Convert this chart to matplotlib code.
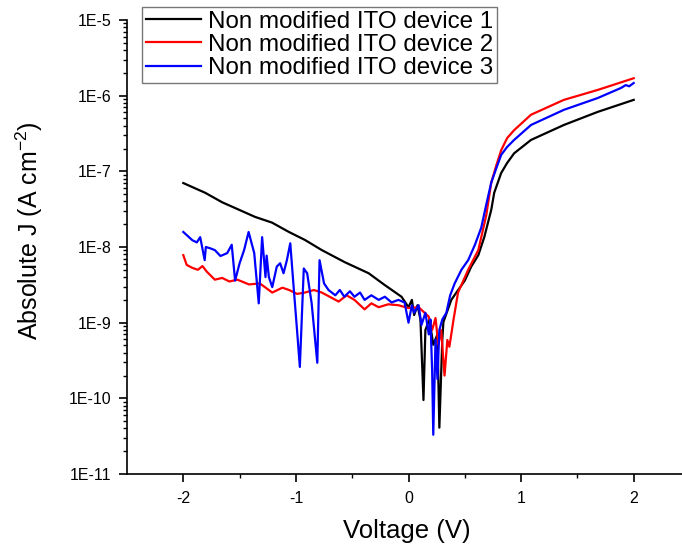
import matplotlib.pyplot as plt
from matplotlib.ticker import FixedLocator, LogLocator, NullFormatter

plt.rcParams['font.family'] = ['Liberation Sans', 'DejaVu Sans']
plt.rcParams['mathtext.default'] = 'regular'

# Device 1 (black)
v1 = [-2.0, -1.805, -1.655, -1.504, -1.363, -1.212, -1.062, -0.92, -0.77, -0.566,
      -0.354, -0.212, -0.062, 0.0, 0.03, 0.05, 0.08, 0.106, 0.133, 0.15, 0.186,
      0.22, 0.257, 0.274, 0.30, 0.31, 0.38, 0.425, 0.50, 0.557, 0.62, 0.673,
      0.735, 0.761, 0.823, 0.876, 0.938, 1.088, 1.38, 1.68, 2.0]
j1 = [7.0e-8, 5.2e-8, 3.9e-8, 3.1e-8, 2.5e-8, 2.1e-8, 1.58e-8, 1.24e-8, 9.1e-9, 6.3e-9,
      4.5e-9, 3.15e-9, 2.2e-9, 1.6e-9, 2.0e-9, 1.26e-9, 1.7e-9, 1.1e-9, 9.5e-11, 8e-10, 1.1e-9,
      5.1e-10, 7e-10, 4.1e-11, 5.9e-10, 1.02e-9, 2.0e-9, 2.5e-9, 3.6e-9, 5.5e-9, 7.8e-9, 1.35e-8,
      3.1e-8, 5.2e-8, 9.5e-8, 1.29e-7, 1.73e-7, 2.6e-7, 4.1e-7, 6.1e-7, 8.8e-7]

# Device 2 (red)
v2 = [-2.0, -1.97, -1.92, -1.87, -1.83, -1.79, -1.72, -1.655, -1.59, -1.52, -1.416,
      -1.32, -1.21, -1.12, -1.06, -0.99, -0.92, -0.84, -0.77, -0.70, -0.62, -0.55,
      -0.48, -0.39, -0.33, -0.265, -0.18, -0.09, 0.0, 0.09, 0.18, 0.21, 0.24, 0.265,
      0.29, 0.32, 0.345, 0.363, 0.40, 0.44, 0.53, 0.62, 0.69, 0.735, 0.78, 0.823,
      0.876, 0.938, 1.088, 1.38, 1.68, 2.0]
j2 = [7.8e-9, 5.8e-9, 5.3e-9, 5.0e-9, 5.6e-9, 4.7e-9, 3.7e-9, 3.9e-9, 3.5e-9, 3.7e-9, 3.2e-9,
      3.3e-9, 2.5e-9, 2.9e-9, 2.7e-9, 2.4e-9, 2.5e-9, 2.7e-9, 2.5e-9, 2.2e-9, 1.9e-9, 2.3e-9,
      2.0e-9, 1.5e-9, 1.8e-9, 1.6e-9, 1.75e-9, 1.7e-9, 1.56e-9, 1.6e-9, 1.2e-9, 8e-10, 1.15e-9, 5.1e-10,
      8e-10, 2.0e-10, 5.9e-10, 4.8e-10, 1.1e-9, 2.5e-9, 5e-9, 9.1e-9, 2.6e-8, 7.1e-8, 1.2e-7, 1.9e-7,
      2.75e-7, 3.5e-7, 5.6e-7, 8.8e-7, 1.19e-6, 1.7e-6]

# Device 3 (blue)
v3 = [-2.0, -1.92, -1.88, -1.85, -1.81, -1.80, -1.76, -1.72, -1.67, -1.61, -1.57,
      -1.54, -1.50, -1.46, -1.42, -1.37, -1.33, -1.30, -1.27, -1.26, -1.24, -1.21,
      -1.17, -1.14, -1.11, -1.08, -1.05, -1.02, -0.99, -0.965, -0.93, -0.90, -0.86,
      -0.81, -0.79, -0.75, -0.71, -0.65, -0.61, -0.57, -0.52, -0.48, -0.43, -0.39,
      -0.33, -0.265, -0.21, -0.15, -0.09, -0.035, 0.0, 0.03, 0.05, 0.09, 0.115, 0.15,
      0.18, 0.195, 0.21, 0.22, 0.24, 0.257, 0.274, 0.30, 0.336, 0.37, 0.41, 0.47,
      0.53, 0.59, 0.646, 0.69, 0.735, 0.78, 0.823, 0.876, 0.938, 1.088, 1.38, 1.68,
      1.885, 1.93, 1.96, 2.0]
j3 = [1.58e-8, 1.23e-8, 1.15e-8, 1.35e-8, 6.7e-9, 1.0e-8, 9.6e-9, 9.1e-9, 7.6e-9, 8.3e-9, 1.07e-8,
      3.6e-9, 6.1e-9, 9.1e-9, 1.58e-8, 8.3e-9, 1.8e-9, 1.35e-8, 4.0e-9, 7.7e-9, 4.0e-9, 2.95e-9,
      5.5e-9, 6.1e-9, 4.5e-9, 6.7e-9, 1.12e-8, 2.95e-9, 8e-10, 2.6e-10, 5.2e-9, 4.5e-9, 1.8e-9,
      2.95e-10, 6.7e-9, 3.3e-9, 2.7e-9, 2.3e-9, 2.7e-9, 2.2e-9, 2.6e-9, 2.2e-9, 2.5e-9, 2.0e-9,
      2.3e-9, 2.0e-9, 2.2e-9, 1.85e-9, 2.0e-9, 1.85e-9, 1.0e-9, 1.7e-9, 1.35e-9, 1.7e-9, 9.3e-10, 1.35e-9,
      7e-10, 1.1e-9, 2.3e-10, 3.3e-11, 6e-10, 1.8e-10, 8e-10, 1.1e-9, 1.35e-9, 2.3e-9, 3.3e-9, 5e-9,
      6.7e-9, 1.07e-8, 1.8e-8, 3.6e-8, 7.1e-8, 1.1e-7, 1.65e-7, 2.1e-7, 2.6e-7, 4.1e-7, 6.5e-7, 9.3e-7,
      1.26e-6, 1.38e-6, 1.33e-6, 1.47e-6]

labels = ['Non modified ITO device 1', 'Non modified ITO device 2', 'Non modified ITO device 3']
colors = ['black', '#ff0000', '#0000ff']
yticks = [1e-11, 1e-10, 1e-9, 1e-8, 1e-7, 1e-6, 1e-5]
ytick_labels = ['1E-11', '1E-10', '1E-9', '1E-8', '1E-7', '1E-6', '1E-5']

fig = plt.figure(figsize=(6.82, 5.48), dpi=100)
ax = fig.add_axes([127 / 682, 74 / 548, 563 / 682, 454 / 548])

for v, j, lab, c in zip([v1, v2, v3], [j1, j2, j3], labels, colors):
    ax.plot(v, j, color=c, lw=1.6, label=lab)

ax.set_yscale('log')
ax.set_ylim(1e-11, 1e-5)
ax.set_xlim(-2.5, 2.5)
ax.set_yticks(yticks)
ax.set_yticklabels(ytick_labels)
ax.yaxis.set_minor_locator(LogLocator(base=10, subs=range(2, 10), numticks=20))
ax.yaxis.set_minor_formatter(NullFormatter())
ax.set_xticks([-2, -1, 0, 1, 2])
ax.set_xticklabels(['-2', '-1', '0', '1', '2'])
ax.xaxis.set_minor_locator(FixedLocator([-1.5, -0.5, 0.5, 1.5]))

for s in ['top', 'right']:
    ax.spines[s].set_visible(False)
for s in ['left', 'bottom']:
    ax.spines[s].set_linewidth(1.2)

ax.tick_params(which='major', direction='out', length=6, width=1.2, labelsize=11.5)
ax.tick_params(axis='x', which='major', pad=6)
ax.tick_params(axis='y', which='major', pad=5)
ax.tick_params(which='minor', direction='out', length=3, width=1.0)

ax.set_xlabel('Voltage (V)', fontsize=18.5)
ax.set_ylabel('Absolute J (A cm$^{-2}$)', fontsize=18)
ax.xaxis.set_label_coords(0.497, -0.10)
ax.yaxis.set_label_coords(-0.145, 0.537)

leg = ax.legend(loc='upper left', bbox_to_anchor=(142 / 682, 1 - 7 / 548),
                bbox_transform=fig.transFigure, fontsize=17.4, frameon=True,
                fancybox=False, borderaxespad=0, handlelength=2.3, handletextpad=0.3,
                labelspacing=0.05, borderpad=0.15)
leg.get_frame().set_edgecolor('#555555')
leg.get_frame().set_linewidth(1.0)

plt.savefig('out.png', dpi=100)
